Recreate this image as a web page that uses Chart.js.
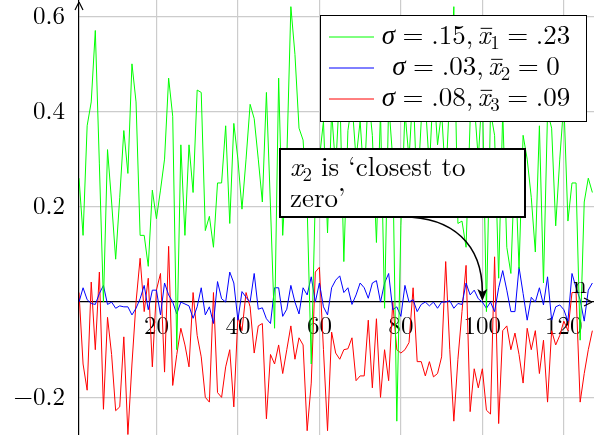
<!DOCTYPE html>
<html>
<head>
<meta charset="utf-8">
<script src="https://cdn.jsdelivr.net/npm/chart.js@4.4.1/dist/chart.umd.min.js"></script>
<style>
html, body { margin: 0; padding: 0; background: #fff; }
#caja { width: 594px; height: 435px; }
</style>
</head>
<body>
<div id="caja"><canvas id="grafica"></canvas></div>
<script>
// valores, n = 1 .. 127
const verde = [
  0.26, 0.14, 0.37, 0.42, 0.57, 0.29, 0.0, 0.32, 0.21, 0.09,
  0.22, 0.36, 0.27, 0.50, 0.42, 0.14, 0.14, 0.075, 0.235, 0.175,
  0.235, 0.30, 0.47, 0.39, -0.10, 0.33, 0.14, 0.33, 0.23, 0.445,
  0.44, 0.15, 0.18, 0.115, 0.25, 0.25, 0.37, 0.165, 0.375, 0.30,
  0.195, 0.30, 0.415, 0.385, 0.30, 0.21, 0.44, 0.20, -0.055, 0.47,
  0.14, 0.30, 0.62, 0.52, 0.365, 0.34, 0.20, -0.13, 0.22, 0.30,
  0.38, 0.145, 0.40, 0.28, 0.45, 0.085, 0.36, 0.42, 0.30, 0.38,
  0.25, 0.44, 0.35, 0.125, 0.40, -0.013, 0.42, 0.30, -0.25, 0.16,
  0.40, 0.30, 0.45, 0.22, 0.38, 0.42, 0.28, 0.46, 0.33, 0.40,
  0.25, 0.44, 0.62, 0.165, 0.17, 0.115, 0.38, 0.42, 0.30, 0.45,
  -0.02, 0.40, 0.35, 0.05, 0.40, 0.115, 0.06, 0.30, 0.07, 0.35,
  0.30, 0.22, 0.105, 0.37, 0.04, 0.40, 0.365, 0.16, 0.30, 0.42,
  0.17, 0.25, 0.25, -0.08, 0.21, 0.26, 0.23
]
const azul = [
  0.0, 0.03, 0.005, -0.003, -0.005, 0.018, 0.035, -0.005, 0.0, -0.013,
  -0.008, -0.01, -0.01, -0.027, -0.013, 0.007, 0.035, -0.016, 0.025, 0.025,
  -0.027, 0.04, 0.015, 0.0, -0.025, 0.0, -0.004, -0.008, -0.034, -0.01,
  0.03, -0.027, -0.01, -0.045, 0.043, 0.007, 0.0, 0.063, 0.04, -0.038,
  0.022, 0.01, 0.0, 0.06, -0.015, -0.012, -0.035, -0.045, 0.03, 0.03,
  -0.03, -0.015, 0.035, 0.0, -0.025, 0.03, 0.015, 0.053, 0.0, 0.04,
  -0.01, -0.027, 0.03, 0.046, 0.055, 0.02, 0.03, -0.005, 0.015, 0.04,
  0.03, 0.008, 0.04, 0.045, 0.0, 0.04, 0.06, -0.016, -0.01, -0.03,
  0.035, 0.0, 0.005, -0.02, -0.005, 0.0, -0.008, 0.0, -0.013, 0.0,
  0.0, 0.003, -0.013, -0.003, -0.005, 0.04, 0.015, 0.025, 0.007, 0.0,
  -0.013, 0.0, -0.02, 0.03, 0.066, 0.025, -0.02, -0.02, 0.073, 0.018,
  -0.038, 0.01, 0.0, 0.03, -0.006, 0.053, -0.038, -0.01, -0.006, -0.016,
  -0.04, 0.06, 0.03, 0.005, -0.04, 0.025, 0.04
]
const rojo = [
  0.02, -0.13, -0.185, 0.042, -0.10, 0.063, -0.225, -0.032, -0.11, -0.228,
  -0.22, -0.073, -0.278, -0.13, 0.0, 0.092, -0.02, 0.05, -0.136, 0.025,
  0.06, -0.147, 0.117, -0.175, -0.11, -0.055, -0.09, -0.136, 0.02, -0.07,
  -0.115, -0.2, -0.21, 0.02, -0.19, -0.2, -0.136, -0.1, -0.22, -0.03,
  -0.06, 0.02, -0.01, -0.107, -0.05, -0.045, -0.245, -0.11, -0.13, -0.09,
  -0.15, -0.1, -0.05, -0.12, -0.075, -0.09, -0.27, -0.17, 0.063, 0.073,
  -0.1, -0.27, -0.063, -0.107, -0.12, -0.1, -0.098, -0.075, -0.165, -0.155,
  -0.155, -0.038, -0.18, -0.035, -0.2, -0.1, -0.165, 0.0, -0.1, -0.107,
  -0.1, -0.085, 0.03, -0.125, -0.125, -0.155, -0.125, -0.157, -0.15, -0.115,
  0.085, -0.1, -0.25, -0.12, -0.02, 0.077, -0.23, -0.14, -0.18, -0.14,
  -0.227, -0.235, 0.095, -0.255, -0.06, -0.05, -0.1, -0.065, -0.11, -0.17,
  -0.055, -0.1, -0.06, -0.15, -0.08, -0.21, -0.06, -0.09, -0.07, -0.04,
  -0.06, 0.02, 0.02, -0.21, -0.15, -0.1, -0.06
]
const xTicks = [20, 40, 60, 80, 100, 120]
const yTicks = [-0.2, 0.2, 0.4, 0.6]

// leyenda: [texto, tipo]  n normal, i italica, b italica con barra, s subindice, r relacion
const leyendas = [
  [["σ", "i"], ["=", "r"], [".15,", "n"], ["x", "b"], ["1", "s"], ["=", "r"], [".23", "n"]],
  [["σ", "i"], ["=", "r"], [".03,", "n"], ["x", "b"], ["2", "s"], ["=", "r"], ["0", "n"]],
  [["σ", "i"], ["=", "r"], [".08,", "n"], ["x", "b"], ["3", "s"], ["=", "r"], [".09", "n"]]
]
const nota = [
  [["x", "i"], ["2", "s"], [" is \u2018closest to", "n"]],
  [["zero\u2019", "n"]]
]
const notaX = 100
const notaY = 0

const fuente = '"Latin Modern Roman"'

function serie(valores) {
  return valores.map((v, i) => ({ x: i + 1, y: v }))
}

function partes(ctx, lista, x, y, size, dibujar) {
  let cx = x
  lista.forEach(([t, tipo]) => {
    let f = tipo === "s" ? Math.round(size * 0.7) : size
    ctx.font = (tipo === "i" || tipo === "b" ? "italic " : "") + f + "px " + fuente
    let w = ctx.measureText(t).width
    let hueco = tipo === "r" ? size * 0.278 : 0
    if (dibujar) {
      let dy = tipo === "s" ? size * 0.2 : 0
      ctx.fillText(t, cx + hueco, y + dy)
      if (tipo === "b") {
        ctx.beginPath()
        ctx.lineWidth = 1
        ctx.moveTo(cx + 3, y - size * 0.58)
        ctx.lineTo(cx + w + 2, y - size * 0.58)
        ctx.stroke()
      }
    }
    cx += w + 2 * hueco
    if (t.endsWith(",")) cx += size * 0.167
  })
  return cx - x
}

const extras = {
  id: "extras",
  afterDraw(chart) {
    const ctx = chart.ctx
    const area = chart.chartArea
    const sx = chart.scales.x
    const sy = chart.scales.y
    const y0 = sy.getPixelForValue(0)

    ctx.save()
    ctx.fillStyle = "#000"
    ctx.strokeStyle = "#000"

    // flechas de los ejes
    ctx.beginPath()
    ctx.moveTo(area.left, area.top + 2)
    ctx.lineTo(area.left - 4, area.top + 10)
    ctx.moveTo(area.left, area.top + 2)
    ctx.lineTo(area.left + 4, area.top + 10)
    ctx.lineWidth = 1.2
    ctx.stroke()
    ctx.beginPath()
    ctx.moveTo(area.right - 2, y0)
    ctx.lineTo(area.right - 10, y0 - 4)
    ctx.moveTo(area.right - 2, y0)
    ctx.lineTo(area.right - 10, y0 + 4)
    ctx.stroke()

    ctx.font = "25px " + fuente
    ctx.textBaseline = "alphabetic"
    ctx.fillText("n", area.right - 21, y0 - 9)

    // leyenda
    const lx = area.right - 274
    const ly = area.top + 15
    ctx.fillStyle = "#fff"
    ctx.fillRect(lx, ly, 266, 106)
    ctx.lineWidth = 1
    ctx.strokeRect(lx + 0.5, ly + 0.5, 266, 106)
    chart.data.datasets.forEach((ds, i) => {
      const fy = ly + 22 + i * 31
      ctx.beginPath()
      ctx.strokeStyle = ds.borderColor
      ctx.moveTo(lx + 9, fy)
      ctx.lineTo(lx + 54, fy)
      ctx.stroke()
      ctx.strokeStyle = "#000"
      ctx.fillStyle = "#000"
      const w = partes(ctx, leyendas[i], 0, 0, 27, false)
      partes(ctx, leyendas[i], lx + 156 - w / 2, fy + 7, 27, true)
    })

    // nota con flecha
    const nx = 280
    const ny = 149
    ctx.fillStyle = "#fff"
    ctx.fillRect(nx, ny, 245, 68)
    ctx.lineWidth = 2
    ctx.strokeRect(nx, ny, 245, 68)
    ctx.fillStyle = "#000"
    partes(ctx, nota[0], nx + 10, ny + 27, 27, true)
    partes(ctx, nota[1], nx + 10, ny + 58, 27, true)

    const tx = sx.getPixelForValue(notaX)
    const ty = sy.getPixelForValue(notaY)
    ctx.beginPath()
    ctx.lineWidth = 1.6
    ctx.moveTo(nx + 123, ny + 68)
    ctx.bezierCurveTo(tx - 30, ny + 68, tx, ny + 95, tx, ty - 10)
    ctx.stroke()
    ctx.beginPath()
    ctx.moveTo(tx, ty - 1)
    ctx.lineTo(tx - 5, ty - 13)
    ctx.lineTo(tx, ty - 10)
    ctx.lineTo(tx + 5, ty - 13)
    ctx.closePath()
    ctx.fill()

    ctx.restore()
  }
}

const ctx = document.getElementById("grafica").getContext("2d")

new Chart(ctx, {
  type: "line",
  data: {
    datasets: [
      { label: "verde", data: serie(verde), borderColor: "#00ff00" },
      { label: "azul", data: serie(azul), borderColor: "#0000ff" },
      { label: "rojo", data: serie(rojo), borderColor: "#ff0000" }
    ]
  },
  options: {
    responsive: true,
    maintainAspectRatio: false,
    animation: false,
    devicePixelRatio: 1,
    layout: { padding: 0 },
    elements: {
      line: { borderWidth: 1, tension: 0 },
      point: { radius: 0 }
    },
    plugins: {
      legend: { display: false },
      tooltip: { enabled: false }
    },
    scales: {
      x: {
        type: "linear",
        min: 1,
        max: 127.4,
        position: { y: 0 },
        afterBuildTicks: s => { s.ticks = xTicks.map(v => ({ value: v })) },
        afterFit: s => { s.paddingLeft = 0; s.paddingRight = 0 },
        grid: { color: "#cccccc", lineWidth: 1.2, drawTicks: false },
        border: { color: "#000", width: 1.2 },
        ticks: {
          color: "#000",
          font: { family: fuente, size: 25 },
          padding: 9,
          maxRotation: 0,
          autoSkip: false
        }
      },
      y: {
        type: "linear",
        min: -0.279,
        max: 0.634,
        position: "left",
        afterBuildTicks: s => { s.ticks = yTicks.map(v => ({ value: v })) },
        afterFit: s => { s.width = 79; s.paddingTop = 0; s.paddingBottom = 0 },
        grid: { color: "#cccccc", lineWidth: 1.2, drawTicks: false },
        border: { color: "#000", width: 1.2 },
        ticks: {
          color: "#000",
          font: { family: fuente, size: 25 },
          padding: 14,
          callback: v => (v < 0 ? "\u2212" : "") + Math.abs(v).toFixed(1)
        }
      }
    }
  },
  plugins: [extras]
})
</script>
</body>
</html>
